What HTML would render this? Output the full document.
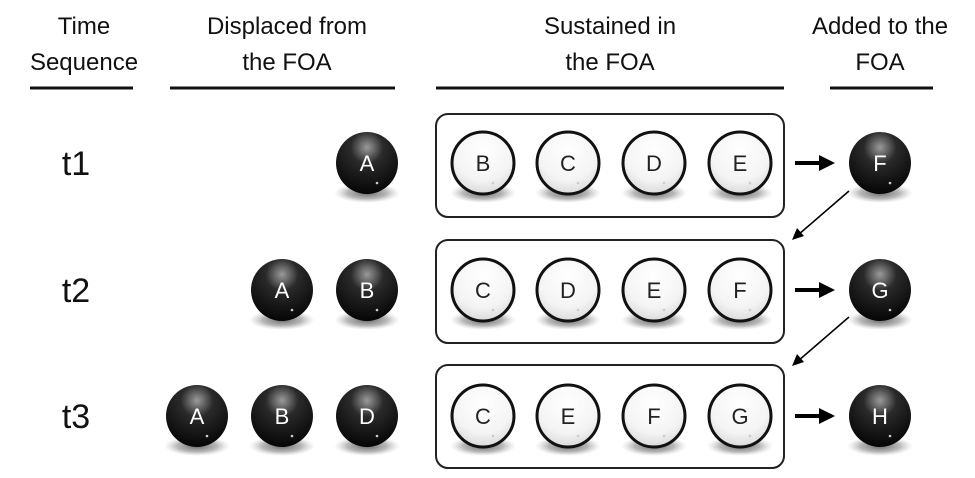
<!DOCTYPE html>
<html><head><style>body{margin:0;background:#fff}</style></head><body>
<svg width="975" height="473" viewBox="0 0 975 473" xmlns="http://www.w3.org/2000/svg" font-family="Liberation Sans, DejaVu Sans, sans-serif">
<defs>
<radialGradient id="bk" cx="0.5" cy="0.25" r="0.75"><stop offset="0" stop-color="#9a9a9a"/><stop offset="0.35" stop-color="#2a2a2a"/><stop offset="1" stop-color="#050505"/></radialGradient>
<radialGradient id="wh" cx="0.5" cy="0.3" r="0.8"><stop offset="0" stop-color="#ffffff"/><stop offset="0.6" stop-color="#f4f4f4"/><stop offset="1" stop-color="#cfcfcf"/></radialGradient>
<radialGradient id="sh" cx="0.5" cy="0.5" r="0.5"><stop offset="0" stop-color="#555" stop-opacity="0.9"/><stop offset="0.6" stop-color="#888" stop-opacity="0.6"/><stop offset="1" stop-color="#bbb" stop-opacity="0"/></radialGradient>
<symbol id="B" overflow="visible"><ellipse cx="0" cy="30" rx="33" ry="10" fill="url(#sh)"/><circle cx="0" cy="0" r="31" fill="url(#bk)"/><circle cx="10" cy="20" r="1.3" fill="#ccc"/></symbol>
<symbol id="W" overflow="visible"><ellipse cx="0" cy="30" rx="33" ry="10" fill="url(#sh)"/><circle cx="0" cy="0" r="31" fill="url(#wh)" stroke="#111" stroke-width="3"/><circle cx="10" cy="20" r="1.3" fill="#ccc"/></symbol>
</defs>
<g font-size="24" text-anchor="middle" fill="#111">
<text x="84" y="34">Time</text><text x="84" y="70">Sequence</text>
<text x="287" y="34">Displaced from</text><text x="287" y="70">the FOA</text>
<text x="610" y="34">Sustained in</text><text x="610" y="70">the FOA</text>
<text x="880" y="34">Added to the</text><text x="880" y="70">FOA</text>
</g>
<g stroke="#111" stroke-width="3">
<line x1="30" y1="88" x2="133" y2="88"/><line x1="170" y1="88" x2="395" y2="88"/>
<line x1="436" y1="88" x2="784" y2="88"/><line x1="830" y1="88" x2="933" y2="88"/>
</g>
<g font-size="34" fill="#111" text-anchor="middle"><text x="76" y="175">t1</text><text x="76" y="302">t2</text><text x="76" y="428">t3</text></g>
<g fill="none" stroke="#222" stroke-width="2">
<rect x="436" y="114" width="348" height="103" rx="12"/>
<rect x="436" y="240" width="348" height="103" rx="12"/>
<rect x="436" y="365" width="348" height="103" rx="12"/>
</g>
<g>
<use href="#B" x="367" y="163"/><use href="#W" x="483" y="163"/><use href="#W" x="568" y="163"/><use href="#W" x="654" y="163"/><use href="#W" x="740" y="163"/><use href="#B" x="880" y="163"/>
<use href="#B" x="282" y="290"/><use href="#B" x="367" y="290"/><use href="#W" x="483" y="290"/><use href="#W" x="568" y="290"/><use href="#W" x="654" y="290"/><use href="#W" x="740" y="290"/><use href="#B" x="880" y="290"/>
<use href="#B" x="197" y="416"/><use href="#B" x="282" y="416"/><use href="#B" x="367" y="416"/><use href="#W" x="483" y="416"/><use href="#W" x="568" y="416"/><use href="#W" x="654" y="416"/><use href="#W" x="740" y="416"/><use href="#B" x="880" y="416"/>
</g>
<g font-size="22" text-anchor="middle" fill="#fff">
<text x="367" y="171">A</text><text x="880" y="171">F</text>
<text x="282" y="298">A</text><text x="367" y="298">B</text><text x="880" y="298">G</text>
<text x="197" y="424">A</text><text x="282" y="424">B</text><text x="367" y="424">D</text><text x="880" y="424">H</text>
</g>
<g font-size="22" text-anchor="middle" fill="#222">
<text x="483" y="171">B</text><text x="568" y="171">C</text><text x="654" y="171">D</text><text x="740" y="171">E</text>
<text x="483" y="298">C</text><text x="568" y="298">D</text><text x="654" y="298">E</text><text x="740" y="298">F</text>
<text x="483" y="424">C</text><text x="568" y="424">E</text><text x="654" y="424">F</text><text x="740" y="424">G</text>
</g>
<g stroke="#000" stroke-width="4">
<line x1="795" y1="163" x2="822" y2="163"/><line x1="795" y1="290" x2="822" y2="290"/><line x1="795" y1="416" x2="822" y2="416"/>
</g>
<g fill="#000">
<path d="M819,155 L835,163 L819,171 z"/><path d="M819,282 L835,290 L819,298 z"/><path d="M819,408 L835,416 L819,424 z"/>
</g>
<g stroke="#000" stroke-width="1.5">
<line x1="849" y1="191" x2="798" y2="235"/><line x1="849" y1="317" x2="798" y2="361"/>
</g>
<g fill="#000">
<path d="M792,240 L797,228 L804,236 z"/><path d="M792,366 L797,354 L804,362 z"/>
</g>
</svg>
</body></html>
